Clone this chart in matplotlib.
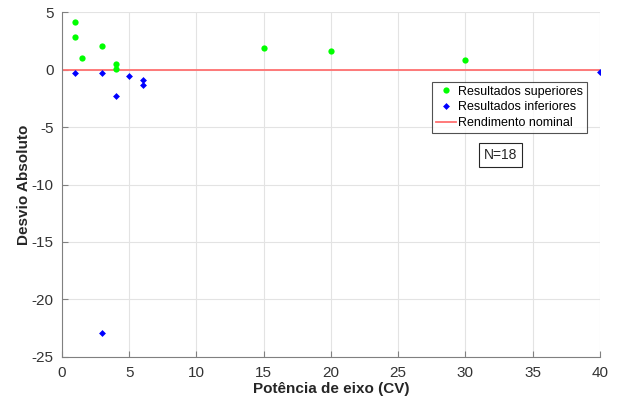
import matplotlib
matplotlib.use("Agg")
import matplotlib.pyplot as plt

plt.rcParams['font.family'] = ['Liberation Sans', 'DejaVu Sans']
plt.rcParams['axes.unicode_minus'] = False

# Results above nominal efficiency
sup_x = [1, 1, 1.5, 3, 4, 4, 15, 20, 30]
sup_y = [4.2, 2.9, 1.0, 2.1, 0.5, 0.1, 1.9, 1.6, 0.9]

# Results below nominal efficiency
inf_x = [1, 3, 3, 4, 5, 6, 6, 40]
inf_y = [-0.3, -0.3, -22.9, -2.3, -0.5, -0.9, -1.3, -0.2]

nominal_x = [0, 40]
nominal_y = [0, 0]

xticks = [0, 5, 10, 15, 20, 25, 30, 35, 40]
yticks = [-25, -20, -15, -10, -5, 0, 5]

fig = plt.figure(figsize=(6.21, 4.03), dpi=100)
ax = fig.add_axes([0.0998, 0.115, 0.866, 0.854])

ax.plot(sup_x, sup_y, linestyle='none', marker='o', markersize=4.5,
        color='#00ff00', markeredgewidth=0, label='Resultados superiores', zorder=3)
ax.plot(inf_x, inf_y, linestyle='none', marker='D', markersize=3.5,
        color='#0000ff', markeredgewidth=0, label='Resultados inferiores', zorder=3)
ax.plot(nominal_x, nominal_y, color='#ff7070', linewidth=1.3,
        label='Rendimento nominal', zorder=2)

ax.set_xlim(0, 40)
ax.set_ylim(-25, 5)
ax.set_xticks(xticks)
ax.set_yticks(yticks)
ax.grid(True, color='#e3e3e3', linewidth=0.8)
ax.set_axisbelow(True)

for side in ['top', 'right']:
    ax.spines[side].set_visible(False)
for side in ['left', 'bottom']:
    ax.spines[side].set_color('#808080')
ax.tick_params(direction='in', length=4, color='#808080', labelcolor='#333333',
               labelsize=11)
ax.tick_params(axis='x', pad=7)
ax.tick_params(axis='y', pad=6)

ax.set_xlabel('Potência de eixo (CV)', fontsize=11, fontweight='bold',
              color='#262626', labelpad=1.5)
ax.set_ylabel('Desvio Absoluto', fontsize=11, fontweight='bold',
              color='#262626')
ax.yaxis.set_label_coords(-0.058, 0.5)

leg = ax.legend(loc='upper left', bbox_to_anchor=(0.688, 0.7985), fontsize=9,
                frameon=True, fancybox=False, edgecolor='#262626',
                handlelength=1.6, handletextpad=0.2, borderpad=0.3,
                labelspacing=0.3, borderaxespad=0)
leg.get_frame().set_linewidth(0.8)

ax.text(0.816, 0.586, 'N=18', transform=ax.transAxes, fontsize=10,
        ha='center', va='center', color='#262626',
        bbox=dict(boxstyle='square,pad=0.35', facecolor='white',
                  edgecolor='#262626', linewidth=0.8))

fig.savefig('out.png', dpi=100)
